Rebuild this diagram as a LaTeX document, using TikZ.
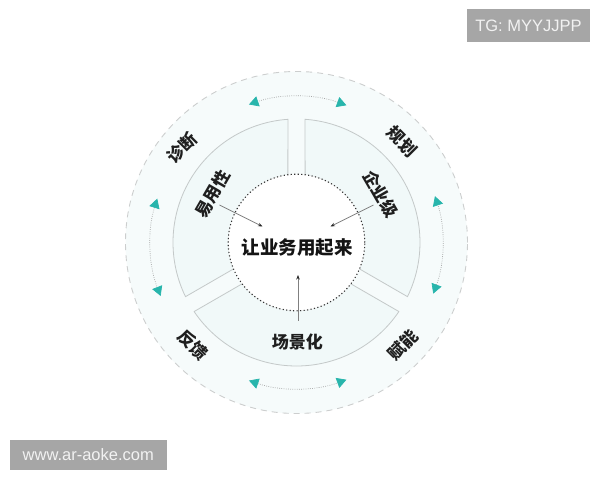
\documentclass[tikz,border=0pt]{standalone}
\usepackage{fontspec}
\setmainfont{Liberation Sans}
\newfontfamily\cjk{Noto Sans CJK SC}
\usetikzlibrary{arrows.meta}
\definecolor{tealtip}{RGB}{40,181,172}
\definecolor{diskfill}{RGB}{246,251,251}
\definecolor{segfill}{RGB}{241,249,249}
\definecolor{segline}{RGB}{196,201,201}
\definecolor{dashline}{RGB}{204,206,206}
\definecolor{wmbox}{RGB}{166,166,166}
\tikzset{
  outerdisk/.style={fill=diskfill, draw=dashline, line width=0.9pt, dash pattern=on 6pt off 5pt},
  segbox/.style={fill=segfill, draw=segline, line width=0.8pt},
  corecircle/.style={fill=white, draw=black!80, line width=1.1pt, dash pattern=on 1.1pt off 2.4pt},
  pairarrow/.style={draw=black!35, line width=0.7pt, dash pattern=on 0.8pt off 1.4pt,
    {Triangle[length=9.5pt,width=10.5pt,color=tealtip]}-{Triangle[length=9.5pt,width=10.5pt,color=tealtip]}},
  lab/.style={font=\cjk\fontsize{17}{17}\selectfont\bfseries, text=black!88, inner sep=0pt},
  corelab/.style={font=\cjk\fontsize{18.5}{18.5}\selectfont\bfseries, text=black!92, inner sep=0pt},
  inarrow/.style={draw=black!50, line width=0.7pt, -{Stealth[length=4.5pt,width=3.5pt,color=black!85]}},
  wm/.style={fill=wmbox, text=white!95!black, font=\fontsize{16.5}{16.5}\selectfont, inner sep=0pt, anchor=center}
}
\begin{document}
\begin{tikzpicture}[x=1pt,y=1pt]
\useasboundingbox (-296.5,-237.5) rectangle (303.5,242.5);
% outer disk
\path[outerdisk] (0,0) circle[radius=171];
% segments
\path[segbox] (93.99:123.5) arc[start angle=93.99,end angle=206.01,radius=123.5]
  -- (202.73:68) arc[start angle=202.73,end angle=97.27,radius=68] -- cycle;
\path[segbox] (213.99:123.5) arc[start angle=213.99,end angle=326.01,radius=123.5]
  -- (322.73:68) arc[start angle=322.73,end angle=217.27,radius=68] -- cycle;
\path[segbox] (333.99:123.5) arc[start angle=333.99,end angle=446.01,radius=123.5]
  -- (442.73:68) arc[start angle=442.73,end angle=337.27,radius=68] -- cycle;
% arrow pairs on the outer ring
\coordinate (p1a) at (70:146);  \coordinate (p2a) at (162.5:146);
\coordinate (p3a) at (251:146); \coordinate (p4a) at (-20.5:146);
\draw[pairarrow] (p1a) arc[start angle=70,end angle=109,radius=146];
\draw[pairarrow] (p2a) arc[start angle=162.5,end angle=201.5,radius=146];
\draw[pairarrow] (p3a) arc[start angle=251,end angle=290,radius=146];
\draw[pairarrow] (p4a) arc[start angle=-20.5,end angle=18.5,radius=146];
% core
\node[corecircle, circle, minimum size=136.6pt, inner sep=0pt] (core) at (0,0) {};
\node[corelab] (center) at (1,-5.5) {让业务用起来};
% outer labels
\node[lab, rotate=45] (zhenduan) at (140.5:149) {诊断};
\node[lab, rotate=-45] (guihua) at (43.8:146) {规划};
\node[lab, rotate=45] (funeng) at (-43.8:148) {赋能};
\node[lab, rotate=-45] (fankui) at (224.8:146) {反馈};
% inner labels
\node[lab, rotate=60] (yiyong) at (150:97) {易用性};
\node[lab, rotate=-60] (qiye) at (30:97) {企业级};
\node[lab] (changjing) at (0.8,-99.2) {场景化};
% inner arrows
\coordinate (s1) at (-77,37.5); \coordinate (e1) at (-34,16);
\coordinate (s2) at (77,37.5);  \coordinate (e2) at (34,16);
\coordinate (s3) at (1.5,-78);  \coordinate (e3) at (1.5,-32.5);
\draw[inarrow] (s1) -- (e1);
\draw[inarrow] (s2) -- (e2);
\draw[inarrow] (s3) -- (e3);
% watermarks
\node[wm, minimum width=123pt, minimum height=32pt] (tg) at (232,217) {TG: MYYJJPP};
\node[wm, minimum width=157pt, minimum height=30pt] (www) at (-208.2,-212) {www.ar-aoke.com};
\end{tikzpicture}
\end{document}
